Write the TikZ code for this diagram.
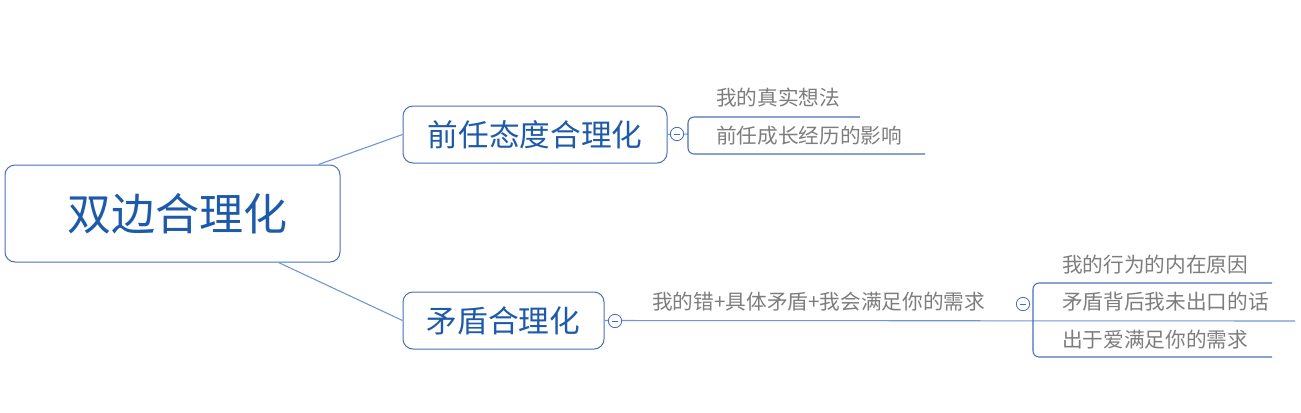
\documentclass[tikz,border=0pt]{standalone}
\usepackage{fontspec}
\setmainfont{Noto Sans CJK SC}
\definecolor{boxline}{RGB}{70,110,185}
\definecolor{boxtext}{RGB}{30,90,170}
\definecolor{connc}{RGB}{110,150,210}
\definecolor{leafc}{RGB}{125,125,125}
\begin{document}
\begin{tikzpicture}[x=0.75pt,y=-0.75pt,
  topic/.style={draw=boxline, rounded corners=7.5pt, text=boxtext, inner sep=0pt, line width=0.75pt},
  leaf/.style={text=leafc, font=\fontsize{15.5}{18}\selectfont, inner sep=0pt, anchor=west},
  conn/.style={draw=connc, line width=0.8pt},
  bracket/.style={draw=boxline, line width=0.8pt, rounded corners=4.5pt},
  fold/.style={circle, draw=boxline, fill=white, minimum size=10pt, inner sep=0pt, line width=0.6pt,
    path picture={\draw[boxline, line width=0.6pt] ([xshift=-2.4pt]path picture bounding box.center) -- ([xshift=2.4pt]path picture bounding box.center);}}]
\useasboundingbox (0,0) rectangle (1301,412);
% main topics
\node[topic, minimum width=251.25pt, minimum height=72.75pt, font=\fontsize{33}{36}\selectfont] (root) at (172.5,213.5) {\hspace*{7pt}双边合理化};
\node[topic, minimum width=198pt, minimum height=42.75pt, font=\fontsize{23}{26}\selectfont] (n1) at (535,134.5) {前任态度合理化};
\node[topic, minimum width=150.75pt, minimum height=42.75pt, font=\fontsize{23}{26}\selectfont] (n2) at (503.5,320.5) {矛盾合理化};
% leaves
\node[leaf] (l11) at (716,98) {我的真实想法};
\node[leaf] (l12) at (716,136) {前任成长经历的影响};
\node[leaf] (m2) at (652,302) {我的错+具体矛盾+我会满足你的需求};
\node[leaf] (l21) at (1062,265) {我的行为的内在原因};
\node[leaf] (l22) at (1062,302) {矛盾背后我未出口的话};
\node[leaf] (l23) at (1062,340) {出于爱满足你的需求};
% coordinates
\coordinate (b1) at (688,134);
\coordinate (u11) at (860,117);
\coordinate (u12) at (925,154);
\coordinate (b2) at (1033,321);
\coordinate (u21) at (1272,283);
\coordinate (u22) at (1295,321);
\coordinate (u23) at (1272,357);
% connectors
\draw[conn] ([xshift=-16.5pt]root.north east) -- (n1.west);
\draw[conn] ([xshift=-46.5pt]root.south east) -- (n2.west);
\draw[conn] (n1.east) -- (b1);
\draw[bracket] (u11) -| (b1) |- (u12);
\draw[conn] (n2.east) -- (u22);
\draw[bracket] (u21) -| (b2) |- (u23);
% fold markers
\node[fold] (f1) at (677,134) {};
\node[fold] (f2) at (615,321) {};
\node[fold] (f3) at (1023,304) {};
\end{tikzpicture}
\end{document}
